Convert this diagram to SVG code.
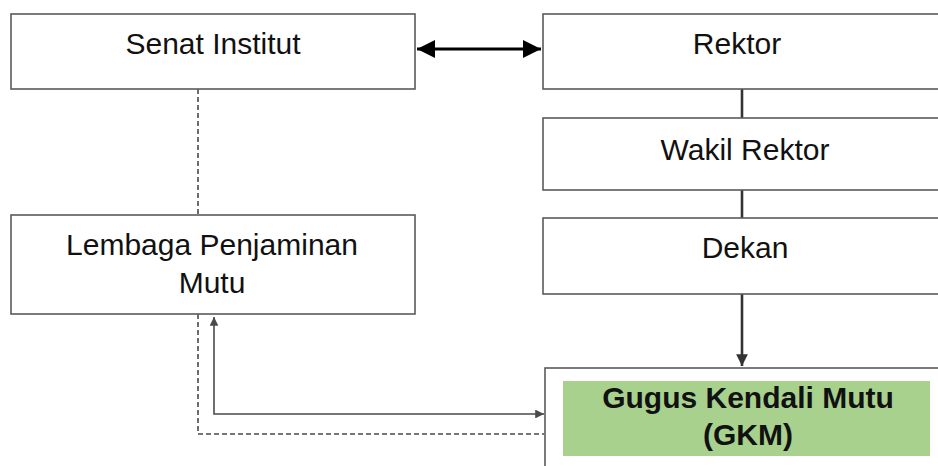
<svg xmlns="http://www.w3.org/2000/svg" width="938" height="466" viewBox="0 0 938 466">
<defs>
<style>
.box{fill:#fff;stroke:#5a5a5a;stroke-width:1.6}
.t{font-family:"Liberation Sans",Arial,sans-serif;font-size:30px;fill:#111;text-anchor:middle}
.b{font-weight:bold}
.thick{stroke:#000;stroke-width:2.8;fill:none}
.vert{stroke:#333;stroke-width:2.6;fill:none}
.thin{stroke:#4a4a4a;stroke-width:1.6;fill:none}
.dash{stroke:#4a4a4a;stroke-width:1.6;fill:none;stroke-dasharray:5,3}
</style>
<marker id="big" viewBox="0 0 10 10" refX="10" refY="5" markerWidth="6.5" markerHeight="6.5" orient="auto-start-reverse" markerUnits="strokeWidth">
<path d="M0,0 L10,5 L0,10 z" fill="#000"/>
</marker>
<marker id="mid" viewBox="0 0 10 10" refX="10" refY="5" markerWidth="4.5" markerHeight="4.5" orient="auto" markerUnits="strokeWidth">
<path d="M0,0 L10,5 L0,10 z" fill="#333"/>
</marker>
<marker id="sm" viewBox="0 0 10 10" refX="10" refY="5" markerWidth="5.5" markerHeight="5.5" orient="auto-start-reverse" markerUnits="strokeWidth">
<path d="M0,0 L10,5 L0,10 z" fill="#4a4a4a"/>
</marker>
</defs>

<g id="connectors">
<line class="thick" x1="417" y1="49" x2="541" y2="49" marker-start="url(#big)" marker-end="url(#big)"/>
<line class="vert" x1="742" y1="89" x2="742" y2="118"/>
<line class="vert" x1="742" y1="190" x2="742" y2="218"/>
<line class="vert" x1="742" y1="294" x2="742" y2="366" marker-end="url(#mid)"/>
<line class="dash" x1="198" y1="89" x2="198" y2="215"/>
<polyline class="dash" points="198,314 198,434 544,434"/>
<polyline class="thin" points="214,317 214,414 544,414" marker-start="url(#sm)" marker-end="url(#sm)"/>
</g>

<g id="senat">
<rect class="box" x="11" y="14" width="404" height="75"/>
<text class="t" x="213" y="54">Senat Institut</text>
</g>

<g id="rektor">
<rect class="box" x="543" y="14" width="410" height="75"/>
<text class="t" x="737" y="54">Rektor</text>
</g>

<g id="wakil">
<rect class="box" x="543" y="118" width="410" height="72"/>
<text class="t" x="745" y="160">Wakil Rektor</text>
</g>

<g id="dekan">
<rect class="box" x="543" y="218" width="410" height="76"/>
<text class="t" x="745" y="258">Dekan</text>
</g>

<g id="lpm">
<rect class="box" x="11" y="215" width="404" height="99"/>
<text class="t" x="212" y="255">Lembaga Penjaminan</text>
<text class="t" x="212" y="293">Mutu</text>
</g>

<g id="gkm">
<rect class="box" x="545" y="368" width="410" height="110"/>
<rect x="563" y="381" width="367" height="75" fill="#a9d18e"/>
<text class="t b" x="748" y="408">Gugus Kendali Mutu</text>
<text class="t b" x="748" y="445">(GKM)</text>
</g>
</svg>
